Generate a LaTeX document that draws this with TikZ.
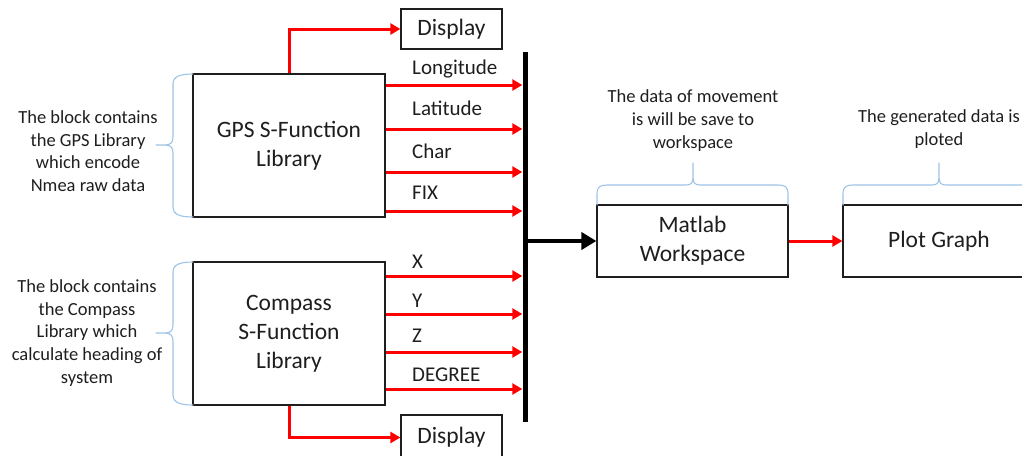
\documentclass[tikz,border=0pt]{standalone}
\usepackage{fontspec}
\setmainfont{Carlito}
\usetikzlibrary{arrows.meta}
\definecolor{sigred}{RGB}{255,0,0}
\definecolor{bracecol}{RGB}{157,195,230}
\definecolor{inkgray}{RGB}{30,30,30}
\begin{document}
\begin{tikzpicture}[x=1pt,y=-1pt,
  block/.style={draw=inkgray, line width=1.2pt, fill=white, inner sep=0pt,
    align=center, text=inkgray, font=\fontsize{23.5}{29}\selectfont},
  sig/.style={draw=sigred, line width=3pt, -{Triangle[length=10pt,width=11pt]}},
  busline/.style={fill=black, inner sep=0pt, minimum width=5pt},
  feed/.style={draw=black, line width=4.5pt, -{Triangle[length=15pt,width=17pt]}},
  siglabel/.style={anchor=base west, inner sep=0pt, text=inkgray,
    font=\fontsize{21}{25}\selectfont},
  note/.style={align=center, inner sep=0pt, text=inkgray,
    font=\fontsize{18.5}{22.7}\selectfont},
  curly/.style={draw=bracecol, line width=1.1pt, line join=round, line cap=round}
]
\useasboundingbox (0,0) rectangle (1022,455);
\clip (0,0) rectangle (1022,455);

% main blocks
\node[block, minimum width=192pt, minimum height=143pt] (gps) at (289,145.5)
  {GPS S-Function\\Library};
\node[block, minimum width=192pt, minimum height=143pt] (comp) at (289,333.5)
  {Compass\\S-Function\\Library};
\node[block, minimum width=101pt, minimum height=40pt] (dtop) at (451.5,29) {Display};
\node[block, minimum width=101pt, minimum height=45pt] (dbot) at (451.5,437.5) {Display};
\node[block, minimum width=191pt, minimum height=72pt] (mat) at (692.5,241)
  {Matlab\\Workspace};
\node[block, minimum width=192pt, minimum height=72pt] (plot) at (939,241) {Plot Graph};

% signal bus
\node[busline, minimum height=370pt] (bus) at (525,237) {};

% display feeds
\draw[sig] (gps.north) |- (dtop.west);
\draw[sig] (comp.south) |- (dbot.west);

% GPS outputs
\draw[sig] (gps.east |- 0,85)  -- (bus.west |- 0,85);
\draw[sig] (gps.east |- 0,129) -- (bus.west |- 0,129);
\draw[sig] (gps.east |- 0,172) -- (bus.west |- 0,172);
\draw[sig] (gps.east |- 0,211) -- (bus.west |- 0,211);
\node[siglabel] (lon) at (412,74)  {Longitude};
\node[siglabel] (lat) at (412,115) {Latitude};
\node[siglabel] (chr) at (412,158) {Char};
\node[siglabel] (fix) at (412,199) {FIX};

% compass outputs
\draw[sig] (comp.east |- 0,276) -- (bus.west |- 0,276);
\draw[sig] (comp.east |- 0,314) -- (bus.west |- 0,314);
\draw[sig] (comp.east |- 0,352) -- (bus.west |- 0,352);
\draw[sig] (comp.east |- 0,389) -- (bus.west |- 0,389);
\node[siglabel] (xl) at (412,268) {X};
\node[siglabel] (yl) at (412,307) {Y};
\node[siglabel] (zl) at (412,342) {Z};
\node[siglabel] (dl) at (412,381) {DEGREE};

% bus to workspace, workspace to plot
\draw[feed] (bus.east |- mat.west) -- (mat.west);
\draw[sig] (mat.east) -- (plot.west);

% annotations
\node[note] (gpsnote) at (88,151)
  {The block contains\\the GPS Library\\which encode\\Nmea raw data};
\node[note] (compnote) at (87,333)
  {The block contains\\the Compass\\Library which\\calculate heading of\\system};
\node[note] (matnote) at (693,120.5)
  {The data of movement\\is will be save to\\workspace};
\node[note] (plotnote) at (939,129)
  {The generated data is\\ploted};

% braces beside the library blocks
\draw[curly] (193,74) .. controls (181,74) and (173,76) .. (173,84) -- (173,137)
  .. controls (173,142) and (171,145) .. (165,145) -- (156,145) -- (165,145)
  .. controls (171,145) and (173,148) .. (173,153) -- (173,207)
  .. controls (173,215) and (181,217) .. (193,217);
\draw[curly] (193,262) .. controls (181,262) and (173,264) .. (173,272) -- (173,325)
  .. controls (173,330) and (171,333) .. (165,333) -- (156,333) -- (165,333)
  .. controls (171,333) and (173,336) .. (173,341) -- (173,395)
  .. controls (173,403) and (181,405) .. (193,405);

% braces above the workspace and plot blocks
\draw[curly] (597,205) -- (597,194) .. controls (597,187) and (600,185) .. (607,185)
  -- (686,185) .. controls (691,185) and (693,183) .. (693,177) -- (693,163)
  -- (693,177) .. controls (693,183) and (695,185) .. (700,185) -- (778,185)
  .. controls (785,185) and (788,187) .. (788,194) -- (788,205);
\draw[curly] (843,205) -- (843,194) .. controls (843,187) and (846,185) .. (853,185)
  -- (932,185) .. controls (937,185) and (939,183) .. (939,177) -- (939,163)
  -- (939,177) .. controls (939,183) and (941,185) .. (946,185) -- (1025,185)
  .. controls (1032,185) and (1035,187) .. (1035,194) -- (1035,205);
\end{tikzpicture}
\end{document}
